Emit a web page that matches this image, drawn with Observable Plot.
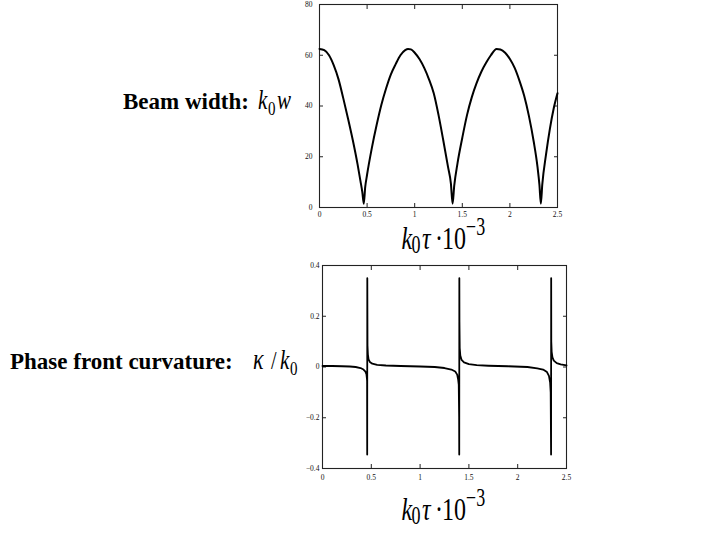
<!DOCTYPE html>
<html><head><meta charset="utf-8">
<script src="https://cdn.jsdelivr.net/npm/d3@7"></script>
<script src="https://cdn.jsdelivr.net/npm/@observablehq/plot@0.6"></script>
<style>
html,body{margin:0;padding:0;background:#fff;}
#wrap{position:relative;width:720px;height:540px;overflow:hidden;background:#fff;}
#wrap > svg{position:absolute;margin:0;}
</style></head><body><div id="wrap"></div>
<script>
// Beam width k0 w vs k0 tau * 1e-3
const beamX = [0,0.05,0.1,0.15,0.2,0.25,0.3,0.35,0.4,0.43,0.45,0.465,
  0.48,0.5,0.55,0.6,0.65,0.7,0.75,0.8,0.85,0.9,0.93,0.96,1.0,1.05,1.1,1.15,1.2,1.25,1.3,1.35,1.38,1.398,
  1.415,1.45,1.5,1.55,1.6,1.65,1.7,1.75,1.8,1.86,1.9,1.95,2.0,2.05,2.1,2.15,2.2,2.25,2.29,2.31,2.325,
  2.34,2.38,2.42,2.46,2.5];
const beamW = [62.5,62,60,56,50.5,43,35,26.5,17,10.5,6,1.5,
  8,13,23.5,32.5,40.5,47,52.5,56.5,60,62,62.5,62.3,61,58.5,55,50.5,45,36.5,26.5,16,9.5,1.5,
  8.5,17.5,27.5,36.5,43.5,49,53.5,57,60,62.5,62.3,61,58.5,55,50,44,36,26,16,9,1.5,
  9,21,31,39,45];

// Phase front curvature kappa / k0
const curvX = [0,0.1,0.2,0.28,0.34,0.39,0.42,0.44,0.45,0.455,0.457,0.458,0.459,0.461,0.465,0.472,0.485,0.51,0.56,0.65,0.8,
  1.0,1.15,1.25,1.32,1.36,1.38,1.39,1.396,1.4,1.401,1.402,1.403,1.406,1.412,1.425,1.45,1.5,1.58,1.7,1.9,
  2.1,2.2,2.26,2.3,2.32,2.332,2.338,2.342,2.343,2.344,2.348,2.356,2.37,2.4,2.44,2.5];
const curvK = [0.004,0.004,0.003,0.002,0,-0.004,-0.01,-0.018,-0.028,-0.045,-0.055,-0.345,0.35,0.085,0.05,0.03,0.02,0.013,0.008,0.006,0.004,
  0.002,0,-0.004,-0.01,-0.018,-0.03,-0.05,-0.07,-0.2,-0.345,0.35,0.18,0.075,0.045,0.028,0.018,0.011,0.007,0.005,0.003,
  0,-0.005,-0.01,-0.02,-0.035,-0.06,-0.1,-0.345,0.35,0.1,0.06,0.038,0.025,0.015,0.01,0.006];

const xTicks = [0,0.5,1,1.5,2,2.5];
const xLabels = ["0","0.5","1","1.5","2","2.5"];
const beamYTicks = [0,20,40,60,80];
const beamYLabels = ["0","20","40","60","80"];
const curvYTicks = [-0.4,-0.2,0,0.2,0.4];
const curvYLabels = ["\u22120.4","\u22120.2","0","0.2","0.4"];

const wrap = document.getElementById("wrap");

function chart(o) {
  const fmt = (ticks, labels) => d => labels[ticks.indexOf(d)];
  const blank = () => "";
  const svg = Plot.plot({
    width: o.width, height: o.height,
    marginLeft: o.mL, marginRight: o.mR, marginTop: o.mT, marginBottom: o.mB,
    x: {domain: [0, 2.5], label: null},
    y: {domain: o.yDomain, label: null},
    style: {fontFamily: "'Liberation Serif', 'Times New Roman', serif", fontSize: "7.5px", color: "#000", background: "transparent", overflow: "visible"},
    marks: [
      Plot.frame({stroke: "#222", strokeWidth: 1.1}),
      Plot.axisX({ticks: xTicks, anchor: "bottom", tickSize: -4, tickPadding: o.xPad, tickFormat: fmt(xTicks, xLabels), label: null, stroke: "#222", fill: "#111"}),
      Plot.axisX({ticks: xTicks, anchor: "top", tickSize: -4, tickFormat: blank, label: null, stroke: "#222"}),
      Plot.axisY({ticks: o.yTicks, anchor: "left", tickSize: -4, tickPadding: o.yPad, tickFormat: fmt(o.yTicks, o.yLabels), label: null, stroke: "#222", fill: "#111"}),
      Plot.axisY({ticks: o.yTicks, anchor: "right", tickSize: -4, tickFormat: blank, label: null, stroke: "#222"}),
      Plot.line(o.ys, {x: o.xs, y: o.ys, stroke: "#000", strokeWidth: o.sw, curve: o.curve})
    ]
  });
  svg.style.left = o.left + "px";
  svg.style.top = o.top + "px";
  wrap.appendChild(svg);
}

chart({xs: beamX, ys: beamW, yDomain: [0, 80], yTicks: beamYTicks, yLabels: beamYLabels, curve: "monotone-x",
  width: 277, height: 221, mL: 29, mR: 10, mT: 4, mB: 14, xPad: 8, yPad: 11, sw: 2, left: 290, top: 0});
chart({xs: curvX, ys: curvK, yDomain: [-0.4, 0.4], yTicks: curvYTicks, yLabels: curvYLabels, curve: "linear",
  width: 286, height: 227, mL: 32, mR: 10, mT: 10, mB: 14, xPad: 10, yPad: 7, sw: 1.8, left: 290, top: 255});

// Text overlay
const ov = d3.select(wrap).append("svg")
  .attr("width", 720).attr("height", 540)
  .style("left", "0px").style("top", "0px").style("pointer-events", "none");
function put(x, y, str, size, weight, fstyle, sy) {
  ov.append("text")
    .attr("transform", `translate(${x},${y}) scale(1,${sy || 1})`)
    .attr("font-family", "'Liberation Serif', 'Times New Roman', serif")
    .attr("font-size", size)
    .attr("font-weight", weight || "normal")
    .attr("font-style", fstyle || "normal")
    .attr("fill", "#000")
    .text(str);
}
put(123, 109, "Beam width:", 23, "bold");
put(258, 109, "k", 21, "normal", "italic", 1.3);
put(268, 115, "0", 15, "normal", "normal", 1.3);
put(277, 109, "w", 21, "normal", "italic", 1.3);

put(10, 369, "Phase front curvature:", 23, "bold");
put(253, 369, "\u03BA", 22, "normal", "italic", 1.3);
put(271, 369, "/", 20, "normal", "normal", 1.3);
put(280, 369, "k", 21, "normal", "italic", 1.3);
put(290, 375, "0", 15, "normal", "normal", 1.3);

function xlabel(B) {
  put(401.5, B, "k", 24, "normal", "italic", 1.35);
  put(411.5, B + 4, "0", 18, "normal", "normal", 1.35);
  put(422, B, "\u03C4", 24, "normal", "italic", 1.35);
  put(435, B, "\u00B7", 24, "normal", "normal", 1.35);
  put(442, B, "10", 24, "normal", "normal", 1.35);
  put(466, B - 14, "\u22123", 18, "normal", "normal", 1.35);
}
xlabel(249);
xlabel(520);
</script></body></html>
